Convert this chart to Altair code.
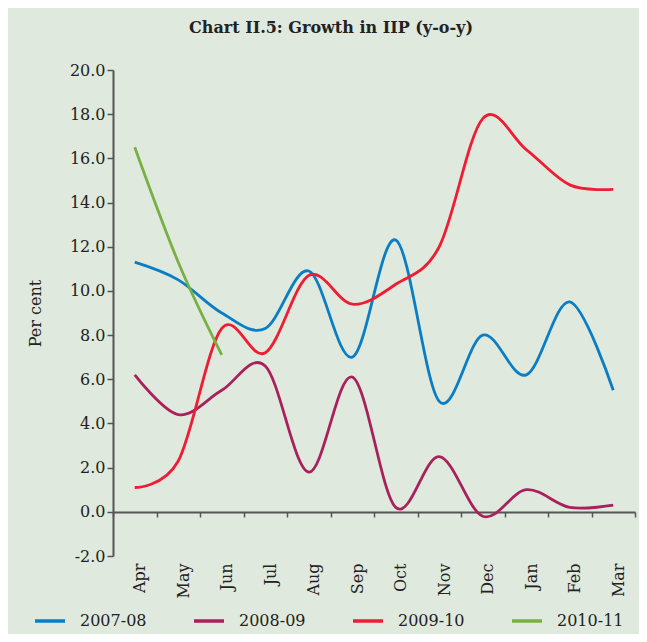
import altair as alt
import pandas as pd

months = ["Apr", "May", "Jun", "Jul", "Aug", "Sep", "Oct", "Nov", "Dec", "Jan", "Feb", "Mar"]
series_names = ["2007-08", "2008-09", "2009-10", "2010-11"]
s2007 = [11.3, 10.5, 9.0, 8.3, 10.9, 7.0, 12.3, 5.0, 8.0, 6.2, 9.5, 5.5]
s2008 = [6.2, 4.4, 5.5, 6.6, 1.8, 6.1, 0.2, 2.5, -0.2, 1.0, 0.2, 0.3]
s2009 = [1.1, 2.3, 8.3, 7.2, 10.7, 9.4, 10.3, 12.0, 17.8, 16.4, 14.8, 14.6]
s2010 = [16.5, 11.3, 7.1]
colors = ["#0a7dc4", "#a8215c", "#ee1d35", "#78b043"]
y_ticks = [-2, 0, 2, 4, 6, 8, 10, 12, 14, 16, 18, 20]

rows = []
for name, vals in zip(series_names, [s2007, s2008, s2009, s2010]):
    for i, v in enumerate(vals):
        rows.append({"month": months[i], "series": name, "value": v, "order": i})
df = pd.DataFrame(rows)

FONT = "DejaVu Serif"

chart = alt.Chart(df).mark_line(interpolate="cardinal", strokeWidth=2.8).encode(
    x=alt.X(
        "month:N",
        sort=months,
        bandPosition=0.5,
        scale=alt.Scale(type="band", paddingInner=0, paddingOuter=0),
        axis=alt.Axis(
            title=None,
            offset=-44,
            labelAngle=-90,
            labelAlign="right",
            labelBaseline="middle",
            labelPadding=46,
            labelOffset=5,
            tickBand="extent",
            tickSize=5,
            tickColor="#555555",
            tickWidth=1.5,
            domainColor="#555555",
            domainWidth=2,
            labelFont=FONT,
            labelFontSize=16,
            labelColor="#222222",
            grid=False,
        ),
    ),
    y=alt.Y(
        "value:Q",
        scale=alt.Scale(domain=[-2, 20], nice=False, zero=False),
        axis=alt.Axis(
            title="Per cent",
            values=y_ticks,
            labelExpr="datum.value < 0 ? '-' + format(-datum.value, '.1f') : format(datum.value, '.1f')",
            tickSize=6,
            tickColor="#555555",
            tickWidth=1.5,
            domainColor="#555555",
            domainWidth=2,
            labelFont=FONT,
            labelFontSize=16,
            labelColor="#222222",
            labelPadding=2,
            titleFont=FONT,
            titleFontSize=16,
            titleFontWeight="normal",
            titleColor="#222222",
            titlePadding=26,
            grid=False,
        ),
    ),
    color=alt.Color(
        "series:N",
        scale=alt.Scale(domain=series_names, range=colors),
        legend=alt.Legend(
            title=None,
            orient="none",
            direction="horizontal",
            columns=4,
            legendX=-80,
            legendY=534,
            symbolType="stroke",
            symbolSize=900,
            symbolStrokeWidth=3.5,
            labelFont=FONT,
            labelFontSize=16,
            labelColor="#222222",
            labelOffset=13,
            columnPadding=40,
        ),
    ),
    order="order:Q",
).properties(
    width=522,
    height=486,
    autosize=alt.AutoSizeParams(type="none"),
    padding={"left": 105, "top": 62, "right": 4, "bottom": 78},
    background="#e0e9dd",
    title=alt.TitleParams(
        "Chart II.5: Growth in IIP (y-o-y)",
        font=FONT,
        fontSize=16,
        fontWeight="bold",
        color="#222222",
        anchor="middle",
        frame="group",
        dx=-43,
        offset=26,
    ),
).configure_view(stroke=None)

chart.save("out.html", embed_options={"renderer": "svg", "actions": False})
